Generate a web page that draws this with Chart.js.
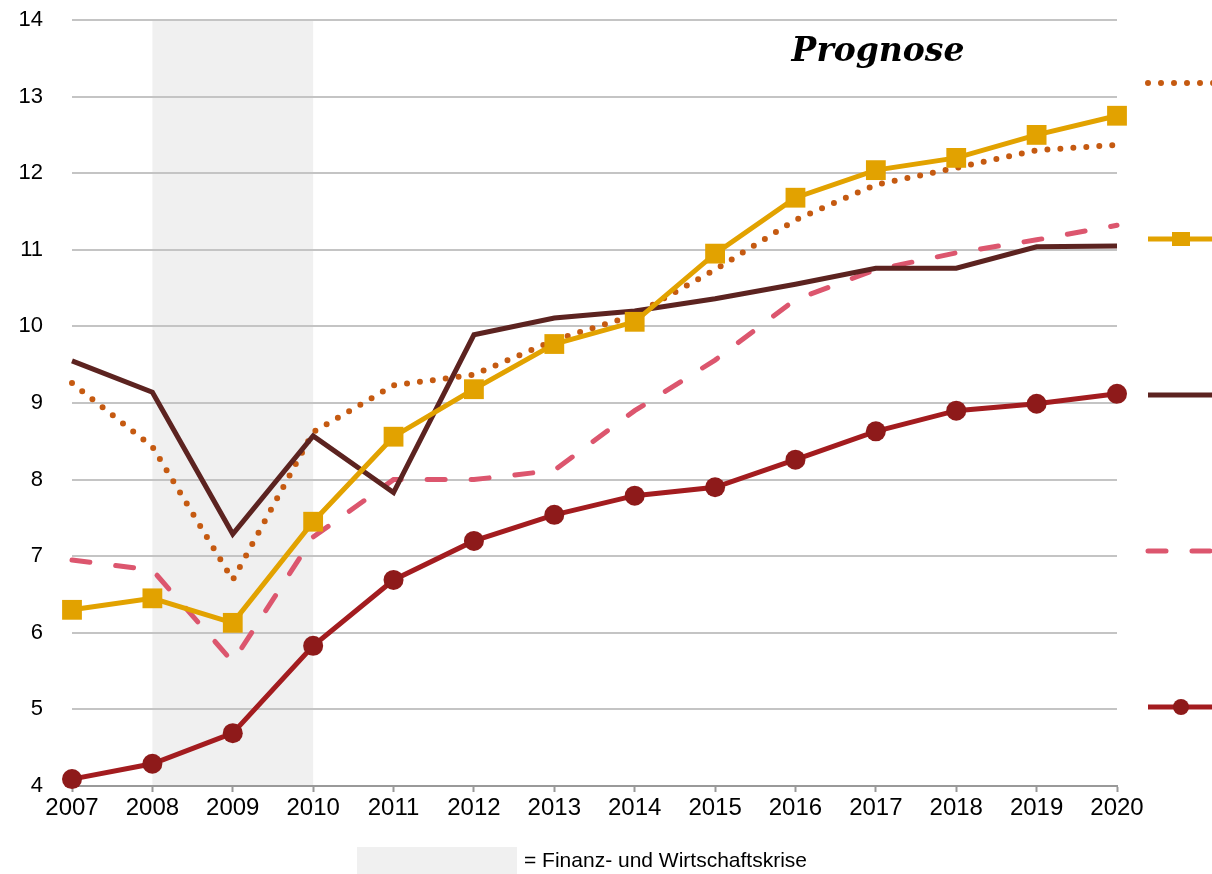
<!DOCTYPE html>
<html>
<head>
<meta charset="utf-8">
<script src="https://cdn.jsdelivr.net/npm/chart.js@4.4.1/dist/chart.umd.min.js"></script>
<style>
  html, body { margin: 0; padding: 0; background: #fff; }
  #wrap { position: relative; width: 1212px; height: 874px; }
</style>
</head>
<body>
<div id="wrap"><canvas id="chart" width="1212" height="874"></canvas></div>
<script>
// data
const years = [2007, 2008, 2009, 2010, 2011, 2012, 2013, 2014, 2015, 2016, 2017, 2018, 2019, 2020];
const dottedSeries = [9.26, 8.43, 6.69, 8.62, 9.23, 9.37, 9.82, 10.15, 10.74, 11.39, 11.85, 12.07, 12.30, 12.37];
const squareSeries = [6.30, 6.45, 6.13, 7.45, 8.56, 9.18, 9.77, 10.06, 10.95, 11.68, 12.04, 12.20, 12.50, 12.75];
const solidSeries = [9.55, 9.14, 7.29, 8.57, 7.83, 9.89, 10.11, 10.20, 10.36, 10.55, 10.76, 10.76, 11.04, 11.05];
const dashedSeries = [6.95, 6.82, 5.62, 7.25, 8.00, 8.00, 8.12, 8.90, 9.56, 10.35, 10.74, 10.96, 11.13, 11.32];
const circleSeries = [4.09, 4.29, 4.69, 5.83, 6.69, 7.20, 7.54, 7.79, 7.90, 8.26, 8.63, 8.90, 8.99, 9.12];
const crisisStart = 2008;
const crisisEnd = 2010;
const yTicks = [4, 5, 6, 7, 8, 9, 10, 11, 12, 13, 14];

const toXY = arr => arr.map((v, i) => ({ x: years[i], y: v }));

// shaded crisis band, drawn before grid so the grid lines sit on top of it
const crisisBand = {
  id: 'crisisBand',
  beforeDraw(chart) {
    const { ctx, chartArea, scales } = chart;
    const x0 = scales.x.getPixelForValue(crisisStart);
    const x1 = scales.x.getPixelForValue(crisisEnd);
    ctx.save();
    ctx.fillStyle = '#f0f0f0';
    ctx.fillRect(x0, chartArea.top, x1 - x0, chartArea.bottom - chartArea.top);
    // bottom note
    ctx.fillRect(357, 847, 160, 27);
    ctx.fillStyle = '#000';
    ctx.font = '21px "Liberation Sans", Arial, sans-serif';
    ctx.textBaseline = 'middle';
    ctx.fillText('= Finanz- und Wirtschaftskrise', 524, 861);
    ctx.restore();
  }
};

// "Prognose" label and the cut-off legend samples on the right
const extras = {
  id: 'extras',
  afterDraw(chart) {
    const { ctx } = chart;
    ctx.save();
    ctx.fillStyle = '#000';
    ctx.font = 'italic bold 33px "DejaVu Serif", "Liberation Serif", serif';
    ctx.textAlign = 'center';
    ctx.textBaseline = 'middle';
    ctx.fillText('Prognose', 878, 52);

    const rows = [83, 239, 395, 551, 707];
    chart.data.datasets.forEach((ds, i) => {
      const y = rows[i];
      ctx.strokeStyle = ds.borderColor;
      ctx.lineWidth = ds.borderWidth;
      ctx.lineCap = ds.borderCapStyle || 'butt';
      ctx.setLineDash(ds.borderDash || []);
      ctx.beginPath();
      ctx.moveTo(1148, y);
      ctx.lineTo(1215, y);
      ctx.stroke();
      ctx.setLineDash([]);
      ctx.fillStyle = ds.pointBackgroundColor;
      if (ds.pointStyle === 'rect') {
        ctx.fillRect(1172, y - 7, 18, 14);
      } else if (ds.pointStyle === 'circle' && ds.pointRadius > 0) {
        ctx.beginPath();
        ctx.arc(1181, y, 8, 0, Math.PI * 2);
        ctx.fill();
      }
    });
    ctx.restore();
  }
};

new Chart(document.getElementById('chart'), {
  type: 'line',
  data: {
    datasets: [{
      label: 'dotted',
      data: toXY(dottedSeries),
      borderColor: '#c55a11',
      borderWidth: 6,
      borderDash: [0, 13],
      borderCapStyle: 'round',
      pointRadius: 0,
      pointStyle: 'circle',
      pointBackgroundColor: '#c55a11',
      order: 4
    }, {
      label: 'squares',
      data: toXY(squareSeries),
      borderColor: '#e2a200',
      borderWidth: 5,
      pointStyle: 'rect',
      pointRadius: 14,
      pointBorderWidth: 0,
      pointBackgroundColor: '#e2a200',
      pointBorderColor: '#e2a200',
      order: 1
    }, {
      label: 'solid',
      data: toXY(solidSeries),
      borderColor: '#5c2320',
      borderWidth: 5,
      pointRadius: 0,
      pointStyle: 'line',
      pointBackgroundColor: '#5c2320',
      order: 3
    }, {
      label: 'dashed',
      data: toXY(dashedSeries),
      borderColor: '#dc566e',
      borderWidth: 5,
      borderDash: [18, 26],
      borderCapStyle: 'round',
      pointRadius: 0,
      pointStyle: 'line',
      pointBackgroundColor: '#dc566e',
      order: 5
    }, {
      label: 'circles',
      data: toXY(circleSeries),
      borderColor: '#a31c1f',
      borderWidth: 5,
      pointStyle: 'circle',
      pointRadius: 10,
      pointBorderWidth: 0,
      pointBackgroundColor: '#8e1a1a',
      pointBorderColor: '#8e1a1a',
      order: 2
    }]
  },
  options: {
    responsive: false,
    animation: false,
    clip: false,
    layout: { autoPadding: false, padding: { left: 0, right: 95, top: 20, bottom: 0 } },
    plugins: {
      legend: { display: false },
      title: { display: false },
      tooltip: { enabled: false }
    },
    elements: { line: { tension: 0 } },
    scales: {
      x: {
        type: 'linear',
        min: 2007,
        max: 2020,
        afterBuildTicks: s => { s.ticks = years.map(v => ({ value: v })); },
        afterFit: s => { s.height = 88; s.paddingTop = 0; s.paddingBottom = 0; },
        grid: { drawOnChartArea: false, color: '#999', tickLength: 6, tickWidth: 2 },
        border: { color: '#999', width: 2 },
        ticks: {
          color: '#000',
          font: { family: '"Liberation Sans", Arial, sans-serif', size: 24 },
          padding: 2,
          maxRotation: 0,
          callback: v => String(v)
        }
      },
      y: {
        min: 4,
        max: 14,
        afterBuildTicks: s => { s.ticks = yTicks.map(v => ({ value: v })); },
        afterFit: s => { s.width = 72; s.paddingTop = 0; s.paddingBottom = 0; },
        grid: { color: '#c4c4c4', lineWidth: 2, drawTicks: false },
        border: { display: false },
        ticks: {
          color: '#000',
          font: { family: '"Liberation Sans", Arial, sans-serif', size: 22 },
          padding: 29
        }
      }
    }
  },
  plugins: [crisisBand, extras]
});
</script>
</body>
</html>
